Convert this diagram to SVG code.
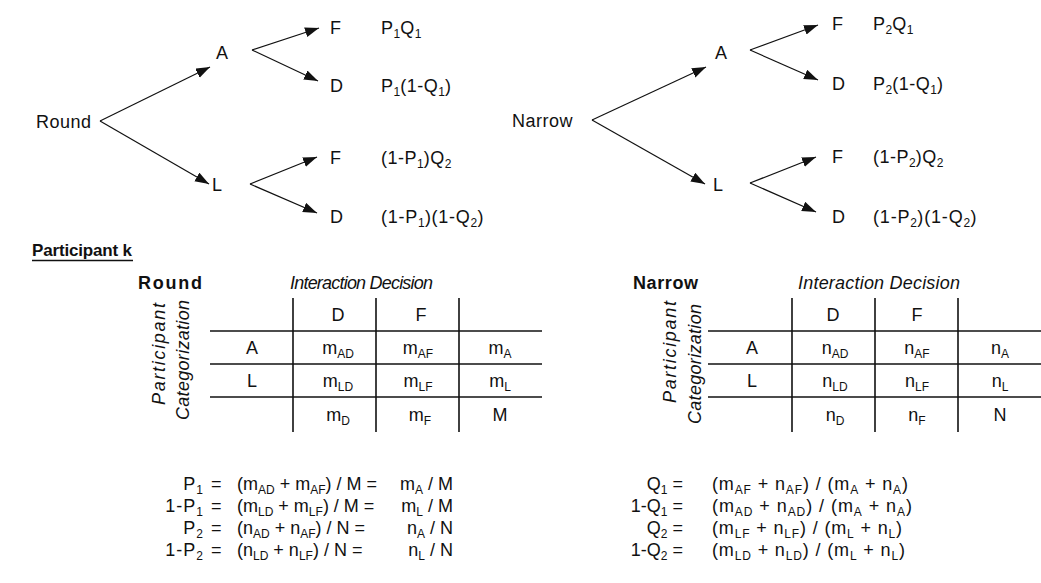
<svg xmlns="http://www.w3.org/2000/svg" width="1041" height="583" viewBox="0 0 1041 583">
<style>
text{font-family:"Liberation Sans",Arial,Helvetica,sans-serif;font-size:18px;fill:#111}
.t{letter-spacing:0.5px}
.lb{letter-spacing:1px}
.s{font-size:12px;baseline-shift:-4px;letter-spacing:0}
.b{font-weight:bold}
.i{font-style:italic}
.m{text-anchor:middle}
.e{text-anchor:end}
.br{stroke:#111;stroke-width:1.2;fill:none}
.g{stroke:#111;stroke-width:1.6;fill:none}
</style>
<defs>
<marker id="ah" markerUnits="userSpaceOnUse" markerWidth="15" markerHeight="11" refX="14" refY="5" orient="auto">
<path d="M0,0 L14,5 L0,10 z" fill="#111"/>
</marker>
</defs>
<rect width="1041" height="583" fill="#fff"/>

<g id="connectors">
<line class="br" x1="100" y1="121" x2="210" y2="67" marker-end="url(#ah)"/>
<line class="br" x1="100" y1="121" x2="209" y2="184" marker-end="url(#ah)"/>
<line class="br" x1="252" y1="50" x2="319" y2="28" marker-end="url(#ah)"/>
<line class="br" x1="252" y1="50" x2="318" y2="81" marker-end="url(#ah)"/>
<line class="br" x1="250" y1="184" x2="317" y2="157" marker-end="url(#ah)"/>
<line class="br" x1="250" y1="184" x2="317" y2="213" marker-end="url(#ah)"/>
<line class="br" x1="592" y1="120" x2="706" y2="67" marker-end="url(#ah)"/>
<line class="br" x1="592" y1="120" x2="705" y2="184" marker-end="url(#ah)"/>
<line class="br" x1="750" y1="50" x2="818" y2="25" marker-end="url(#ah)"/>
<line class="br" x1="750" y1="50" x2="818" y2="80" marker-end="url(#ah)"/>
<line class="br" x1="750" y1="183" x2="816" y2="157" marker-end="url(#ah)"/>
<line class="br" x1="750" y1="183" x2="816" y2="212" marker-end="url(#ah)"/>
</g>

<g id="tree-round">
<g id="n-round"><text class="t" x="36" y="128">Round</text></g>
<g id="n-round-a"><text class="t" x="216" y="59">A</text></g>
<g id="n-round-l"><text class="t" x="212" y="191">L</text></g>
<g id="n-round-af"><text class="t" x="330" y="34">F</text><text class="t" x="381" y="34">P<tspan class="s">1</tspan>Q<tspan class="s">1</tspan></text></g>
<g id="n-round-ad"><text class="t" x="330" y="92">D</text><text class="t" x="381" y="92">P<tspan class="s">1</tspan>(1-Q<tspan class="s">1</tspan>)</text></g>
<g id="n-round-lf"><text class="t" x="330" y="164">F</text><text class="t" x="381" y="164">(1-P<tspan class="s">1</tspan>)Q<tspan class="s">2</tspan></text></g>
<g id="n-round-ld"><text class="t" x="330" y="223">D</text><text class="t" x="381" y="223" textLength="103">(1-P<tspan class="s">1</tspan>)(1-Q<tspan class="s">2</tspan>)</text></g>
</g>

<g id="tree-narrow">
<g id="n-narrow"><text class="t e" x="573" y="127">Narrow</text></g>
<g id="n-narrow-a"><text class="t" x="715" y="59">A</text></g>
<g id="n-narrow-l"><text class="t" x="713" y="191">L</text></g>
<g id="n-narrow-af"><text class="t" x="832" y="30">F</text><text class="t" x="873" y="30">P<tspan class="s">2</tspan>Q<tspan class="s">1</tspan></text></g>
<g id="n-narrow-ad"><text class="t" x="832" y="90">D</text><text class="t" x="873" y="90">P<tspan class="s">2</tspan>(1-Q<tspan class="s">1</tspan>)</text></g>
<g id="n-narrow-lf"><text class="t" x="832" y="163">F</text><text class="t" x="873" y="163">(1-P<tspan class="s">2</tspan>)Q<tspan class="s">2</tspan></text></g>
<g id="n-narrow-ld"><text class="t" x="832" y="223">D</text><text class="t" x="873" y="223" textLength="104">(1-P<tspan class="s">2</tspan>)(1-Q<tspan class="s">2</tspan>)</text></g>
</g>

<g id="participant-k">
<text class="b" x="32" y="256" style="font-size:17px" textLength="100">Participant k</text>
<line x1="32" y1="260.5" x2="133" y2="260.5" stroke="#111" stroke-width="1.5"/>
</g>

<g id="table-round">
<text class="b" x="138" y="289" textLength="64">Round</text>
<text class="i" x="290" y="289" textLength="143">Interaction Decision</text>
<text class="i m" transform="translate(165,354) rotate(-90)" textLength="102">Participant</text>
<text class="i m" transform="translate(189,360) rotate(-90)" textLength="120">Categorization</text>
<line class="g" x1="293" y1="298" x2="293" y2="432"/>
<line class="g" x1="376" y1="298" x2="376" y2="432"/>
<line class="g" x1="459" y1="298" x2="459" y2="432"/>
<line class="g" x1="210" y1="331" x2="542" y2="331"/>
<line class="g" x1="210" y1="364" x2="542" y2="364"/>
<line class="g" x1="210" y1="397" x2="542" y2="397"/>
<text class="m" x="338" y="321">D</text>
<text class="m" x="421" y="321">F</text>
<text class="m" x="252" y="354">A</text>
<text class="m" x="338" y="354">m<tspan class="s">AD</tspan></text>
<text class="m" x="418" y="354">m<tspan class="s">AF</tspan></text>
<text class="m" x="500" y="354">m<tspan class="s">A</tspan></text>
<text class="m" x="252" y="387">L</text>
<text class="m" x="338" y="387">m<tspan class="s">LD</tspan></text>
<text class="m" x="418" y="387">m<tspan class="s">LF</tspan></text>
<text class="m" x="500" y="387">m<tspan class="s">L</tspan></text>
<text class="m" x="338" y="421">m<tspan class="s">D</tspan></text>
<text class="m" x="420" y="421">m<tspan class="s">F</tspan></text>
<text class="m" x="500" y="421">M</text>
</g>

<g id="table-narrow">
<text class="b" x="633" y="289" textLength="65">Narrow</text>
<text class="i" x="798" y="289" textLength="162">Interaction Decision</text>
<text class="i m" transform="translate(676,352) rotate(-90)" textLength="102">Participant</text>
<text class="i m" transform="translate(701,364) rotate(-90)" textLength="120">Categorization</text>
<line class="g" x1="792" y1="298" x2="792" y2="432"/>
<line class="g" x1="875" y1="298" x2="875" y2="432"/>
<line class="g" x1="958" y1="298" x2="958" y2="432"/>
<line class="g" x1="708" y1="331" x2="1041" y2="331"/>
<line class="g" x1="708" y1="364" x2="1041" y2="364"/>
<line class="g" x1="708" y1="397" x2="1041" y2="397"/>
<text class="m" x="833" y="321">D</text>
<text class="m" x="917" y="321">F</text>
<text class="m" x="752" y="354">A</text>
<text class="m" x="835" y="354">n<tspan class="s">AD</tspan></text>
<text class="m" x="917" y="354">n<tspan class="s">AF</tspan></text>
<text class="m" x="1000" y="354">n<tspan class="s">A</tspan></text>
<text class="m" x="752" y="387">L</text>
<text class="m" x="835" y="387">n<tspan class="s">LD</tspan></text>
<text class="m" x="917" y="387">n<tspan class="s">LF</tspan></text>
<text class="m" x="1000" y="387">n<tspan class="s">L</tspan></text>
<text class="m" x="835" y="421">n<tspan class="s">D</tspan></text>
<text class="m" x="917" y="421">n<tspan class="s">F</tspan></text>
<text class="m" x="1000" y="421">N</text>
</g>

<g id="formulas-p">
<text class="e lb" x="203" y="490">P<tspan class="s">1</tspan></text><text x="211" y="490">=</text>
<text x="237" y="490">(m<tspan class="s">AD</tspan> + m<tspan class="s">AF</tspan>) / M =</text>
<text class="e" x="453" y="490">m<tspan class="s">A</tspan> / M</text>
<text class="e lb" x="203" y="512">1-P<tspan class="s">1</tspan></text><text x="211" y="512">=</text>
<text x="237" y="512">(m<tspan class="s">LD</tspan> + m<tspan class="s">LF</tspan>) / M =</text>
<text class="e" x="453" y="512">m<tspan class="s">L</tspan> / M</text>
<text class="e lb" x="203" y="534">P<tspan class="s">2</tspan></text><text x="211" y="534">=</text>
<text x="237" y="534">(n<tspan class="s">AD</tspan> + n<tspan class="s">AF</tspan>) / N =</text>
<text class="e" x="453" y="534">n<tspan class="s">A</tspan> / N</text>
<text class="e lb" x="203" y="556">1-P<tspan class="s">2</tspan></text><text x="211" y="556">=</text>
<text x="237" y="556">(n<tspan class="s">LD</tspan> + n<tspan class="s">LF</tspan>) / N =</text>
<text class="e" x="453" y="556">n<tspan class="s">L</tspan> / N</text>
</g>

<g id="formulas-q">
<text class="e" x="683" y="490">Q<tspan class="s">1</tspan> =</text>
<text x="712" y="490" textLength="196">(m<tspan class="s">AF</tspan> + n<tspan class="s">AF</tspan>) / (m<tspan class="s">A</tspan> + n<tspan class="s">A</tspan>)</text>
<text class="e" x="683" y="512">1-Q<tspan class="s">1</tspan> =</text>
<text x="712" y="512" textLength="200">(m<tspan class="s">AD</tspan> + n<tspan class="s">AD</tspan>) / (m<tspan class="s">A</tspan> + n<tspan class="s">A</tspan>)</text>
<text class="e" x="683" y="534">Q<tspan class="s">2</tspan> =</text>
<text x="712" y="534" textLength="190">(m<tspan class="s">LF</tspan> + n<tspan class="s">LF</tspan>) / (m<tspan class="s">L</tspan> + n<tspan class="s">L</tspan>)</text>
<text class="e" x="683" y="556">1-Q<tspan class="s">2</tspan> =</text>
<text x="712" y="556" textLength="193">(m<tspan class="s">LD</tspan> + n<tspan class="s">LD</tspan>) / (m<tspan class="s">L</tspan> + n<tspan class="s">L</tspan>)</text>
</g>
</svg>
